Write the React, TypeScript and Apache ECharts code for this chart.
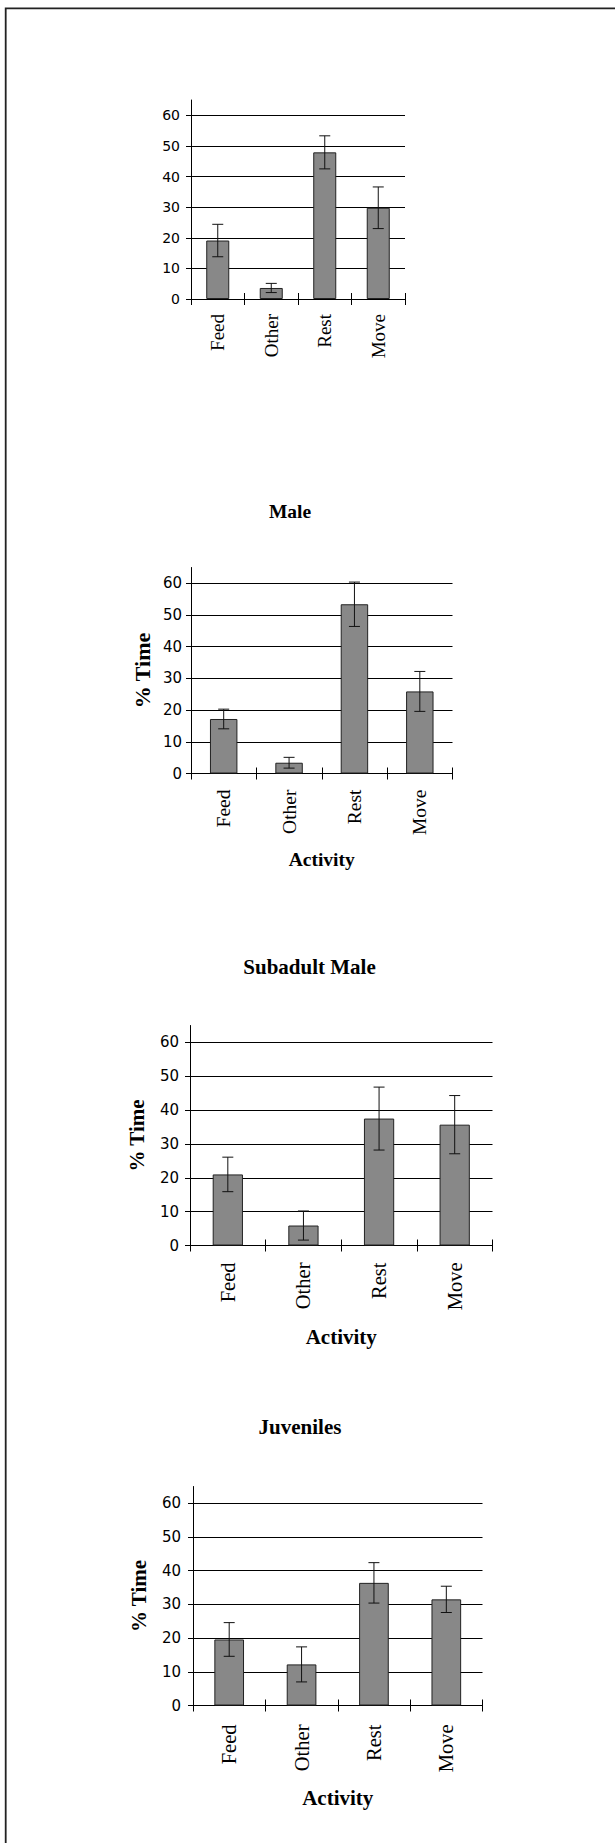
import React, { useEffect, useRef } from "react";
import * as echarts from "echarts";

// ---- data ----
const categories = ["Feed", "Other", "Rest", "Move"];
const yTickValues = [0, 10, 20, 30, 40, 50, 60];

const allMeans = [19.1, 3.6, 47.9, 29.8];
const allErrors = [5.3, 1.5, 5.4, 6.8];

const maleMeans = [17.2, 3.4, 53.4, 25.9];
const maleErrors = [3.1, 1.7, 7.0, 6.3];

const subadultMeans = [21.0, 5.9, 37.5, 35.7];
const subadultErrors = [5.1, 4.3, 9.3, 8.6];

const juvenileMeans = [19.6, 12.2, 36.4, 31.5];
const juvenileErrors = [5.0, 5.2, 6.0, 3.9];

const titles = ["", "Male", "Subadult Male", "Juveniles"];
const yAxisName = "% Time";
const xAxisName = "Activity";

// ---- layout (positions / styles only) ----
const panels = [
  { means: allMeans, errs: allErrors, grid: { left: 191, top: 100, width: 214, height: 199 }, names: false, xFont: 19, yFont: 14, yMargin: 11, xMargin: 15, gapX: 0, gapY: 0, nameFont: 20, yNameFont: 21, titleFont: 19, bw: "43%", titleAt: [0, 0] },
  { means: maleMeans, errs: maleErrors, grid: { left: 191, top: 567.5, width: 261.5, height: 206 }, names: true, xFont: 19.5, yFont: 15, yMargin: 9, xMargin: 16, gapX: 76, gapY: 38, nameFont: 19.5, yNameFont: 22, titleFont: 19.5, bw: "42%", titleAt: [290, 511] },
  { means: subadultMeans, errs: subadultErrors, grid: { left: 190, top: 1025.5, width: 302.5, height: 220 }, names: true, xFont: 20.5, yFont: 15, yMargin: 11, xMargin: 17, gapX: 81, gapY: 43, nameFont: 21, yNameFont: 21, titleFont: 21, bw: "40%", titleAt: [309.5, 967] },
  { means: juvenileMeans, errs: juvenileErrors, grid: { left: 193, top: 1486.5, width: 289.5, height: 219 }, names: true, xFont: 20.5, yFont: 15, yMargin: 12, xMargin: 19, gapX: 82, gapY: 44, nameFont: 21, yNameFont: 21, titleFont: 21, bw: "41%", titleAt: [300, 1427] },
];

const SERIF = "'Liberation Serif', 'Times New Roman', serif";
const SANS = "'DejaVu Sans', 'Liberation Sans', Arial, sans-serif";

function buildOption() {
  const grid: any[] = [];
  const xAxis: any[] = [];
  const yAxis: any[] = [];
  const series: any[] = [];
  const graphic: any[] = [
    {
      type: "rect",
      shape: { x: 5.7, y: 8.3, width: 700, height: 2000 },
      style: { fill: "none", stroke: "#222", lineWidth: 1.8 },
      silent: true,
    },
  ];

  panels.forEach((p, i) => {
    grid.push({ ...p.grid, containLabel: false });
    // main category axis
    xAxis.push({
      type: "category",
      gridIndex: i,
      data: categories,
      position: "bottom",
      boundaryGap: true,
      axisLine: { show: true, lineStyle: { color: "#000", width: 1 } },
      axisTick: { show: true, inside: false, length: 6, alignWithLabel: false, interval: 0, lineStyle: { color: "#000", width: 1 } },
      axisLabel: {
        show: true,
        interval: 0,
        rotate: 90,
        margin: p.xMargin,
        color: "#000",
        fontFamily: SERIF,
        fontSize: p.xFont,
      },
      splitLine: { show: false },
      name: p.names ? xAxisName : "",
      nameLocation: "middle",
      nameGap: p.gapX,
      nameTextStyle: { fontFamily: SERIF, fontWeight: "bold", fontSize: p.nameFont, color: "#000" },
    });
    // overlay axis for ticks crossing upward
    xAxis.push({
      type: "category",
      gridIndex: i,
      data: categories,
      position: "bottom",
      boundaryGap: true,
      axisLine: { show: false },
      axisTick: { show: true, inside: true, length: 6, alignWithLabel: false, interval: 0, lineStyle: { color: "#000", width: 1 } },
      axisLabel: { show: false },
      splitLine: { show: false },
    });
    yAxis.push({
      type: "value",
      gridIndex: i,
      min: 0,
      max: 65,
      interval: 10,
      axisLine: { show: true, lineStyle: { color: "#000", width: 1 } },
      axisTick: { show: true, inside: false, length: 5, customValues: yTickValues, lineStyle: { color: "#000", width: 1 } },
      axisLabel: {
        show: true,
        customValues: yTickValues,
        margin: p.yMargin,
        color: "#000",
        fontFamily: SANS,
        fontSize: p.yFont,
      },
      splitLine: { show: true, lineStyle: { color: "#000", width: 1 } },
      name: p.names ? yAxisName : "",
      nameLocation: "middle",
      nameRotate: 90,
      nameGap: p.gapY,
      nameTextStyle: { fontFamily: SERIF, fontWeight: "bold", fontSize: p.yNameFont, color: "#000" },
    });

    series.push({
      type: "bar",
      xAxisIndex: i * 2,
      yAxisIndex: i,
      data: p.means,
      barWidth: p.bw,
      itemStyle: { color: "#888888", borderColor: "#222", borderWidth: 1 },
      z: 2,
    });
    series.push({
      type: "custom",
      xAxisIndex: i * 2,
      yAxisIndex: i,
      z: 3,
      encode: { x: 0, y: [1, 2] },
      data: p.means.map((m, k) => [k, m - p.errs[k], m + p.errs[k]]),
      renderItem: (params: any, api: any) => {
        const x = api.value(0);
        const lo = api.coord([x, api.value(1)]);
        const hi = api.coord([x, api.value(2)]);
        const hw = 5.5;
        const style = { stroke: "#111", lineWidth: 1 };
        return {
          type: "group",
          children: [
            { type: "line", shape: { x1: lo[0], y1: lo[1], x2: hi[0], y2: hi[1] }, style },
            { type: "line", shape: { x1: hi[0] - hw, y1: hi[1], x2: hi[0] + hw, y2: hi[1] }, style },
            { type: "line", shape: { x1: lo[0] - hw, y1: lo[1], x2: lo[0] + hw, y2: lo[1] }, style },
          ],
        };
      },
    });

    if (titles[i]) {
      graphic.push({
        type: "text",
        x: p.titleAt[0],
        y: p.titleAt[1],
        style: {
          text: titles[i],
          align: "center",
          verticalAlign: "middle",
          fontFamily: SERIF,
          fontWeight: "bold",
          fontSize: p.titleFont,
          fill: "#000",
        },
      });
    }
  });

  return {
    animation: false,
    backgroundColor: "#fff",
    grid,
    xAxis,
    yAxis,
    series,
    graphic,
  };
}

export default function App() {
  const ref = useRef<HTMLDivElement>(null);
  useEffect(() => {
    if (!ref.current) return;
    const chart = echarts.init(ref.current, null, { renderer: "svg" });
    chart.setOption(buildOption());
    return () => chart.dispose();
  }, []);
  return (
    <div
      ref={ref}
      style={{ position: "absolute", left: 0, top: 0, width: 615, height: 1843 }}
    />
  );
}
